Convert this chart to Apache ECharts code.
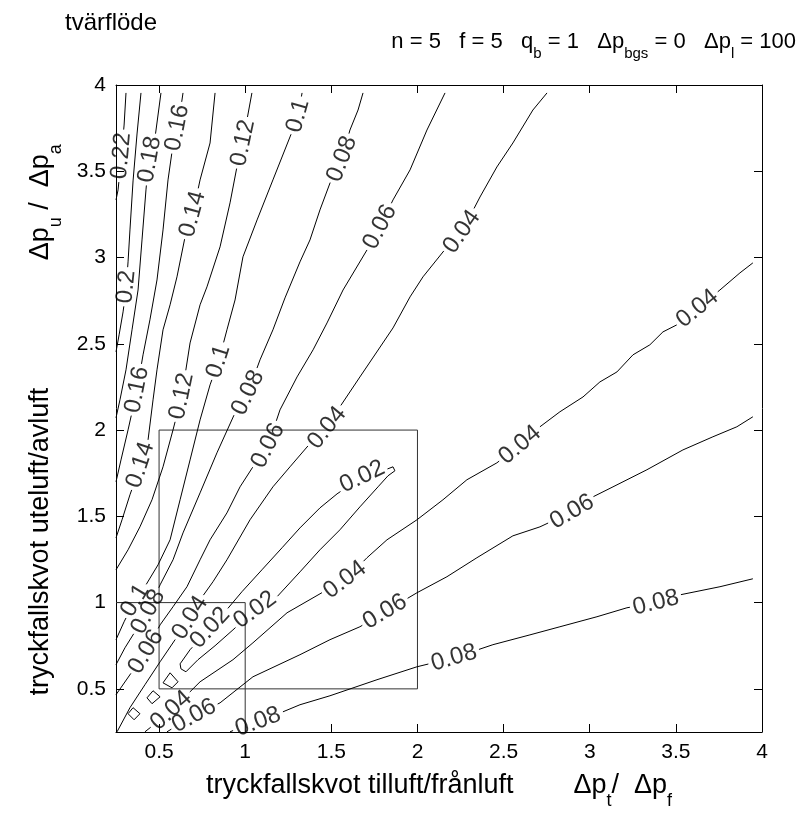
<!DOCTYPE html>
<html><head><meta charset="utf-8">
<script src="https://cdn.jsdelivr.net/npm/echarts@6/dist/echarts.min.js"></script>
<style>html,body{margin:0;padding:0;background:#fff}#c{width:811px;height:818px}</style>
</head><body><div id="c"></div>
<script>
// ---------- data ----------
const xTicks = [0.5, 1, 1.5, 2, 2.5, 3, 3.5, 4];
const yTicks = [0.5, 1, 1.5, 2, 2.5, 3, 3.5, 4];

const c022 = [[0.308,3.954],[0.297,3.768],[0.279,3.566],[0.262,3.392],[0.25,3.334]];
const c022Lab = [[0.285,3.589]];
const c020 = [[0.395,3.954],[0.372,3.716],[0.349,3.444],[0.331,3.160],[0.320,2.975],[0.308,2.812],[0.291,2.685],[0.268,2.552],[0.25,2.453]];
const c020Lab = [[0.314,2.830]];
const c018 = [[0.511,3.954],[0.477,3.699],[0.436,3.525],[0.424,3.392],[0.401,3.102],[0.378,2.812],[0.343,2.581],[0.308,2.349],[0.273,2.175],[0.25,2.071]];
const c018Lab = [[0.459,3.566]];
const c016 = [[0.639,3.954],[0.622,3.838],[0.598,3.711],[0.575,3.612],[0.552,3.450],[0.523,3.160],[0.488,2.870],[0.447,2.639],[0.407,2.436],[0.372,2.233],[0.320,2.001],[0.279,1.827],[0.25,1.700]];
const c016Lab = [[0.610,3.751],[0.372,2.233]];
const c014 = [[0.825,3.954],[0.796,3.664],[0.738,3.450],[0.697,3.259],[0.651,3.120],[0.604,2.888],[0.564,2.726],[0.523,2.581],[0.488,2.349],[0.465,2.175],[0.436,1.943],[0.389,1.787],[0.331,1.625],[0.285,1.480],[0.25,1.375]];
const c014Lab = [[0.691,3.253],[0.389,1.798]];
const c012 = [[1.039,3.954],[1.010,3.797],[0.987,3.664],[0.952,3.525],[0.912,3.317],[0.854,3.062],[0.778,2.830],[0.738,2.726],[0.680,2.505],[0.633,2.204],[0.581,2.001],[0.523,1.787],[0.459,1.596],[0.389,1.439],[0.320,1.306],[0.25,1.190]];
const c012Lab = [[0.987,3.664],[0.622,2.198]];
const c010 = [[1.330,3.954],[1.306,3.815],[1.260,3.699],[1.161,3.450],[1.069,3.218],[0.987,3.004],[0.941,2.754],[0.894,2.581],[0.848,2.407],[0.796,2.262],[0.738,2.059],[0.680,1.827],[0.622,1.596],[0.564,1.364],[0.494,1.219],[0.424,1.103],[0.355,1.005],[0.297,0.889],[0.25,0.785]];
const c010Lab = [[1.306,3.821],[0.854,2.395],[0.355,1.016]];
const c008 = [[1.684,3.954],[1.655,3.855],[1.608,3.739],[1.562,3.571],[1.492,3.432],[1.434,3.276],[1.376,3.102],[1.318,2.975],[1.231,2.766],[1.161,2.581],[1.086,2.407],[1.016,2.216],[0.929,2.077],[0.836,1.868],[0.738,1.636],[0.639,1.404],[0.581,1.248],[0.506,1.103],[0.436,0.947],[0.360,0.831],[0.302,0.738],[0.25,0.640]];
const c008Lab = [[1.562,3.571],[1.016,2.216],[0.436,0.947]];
const c006u = [[2.160,3.954],[2.055,3.739],[1.957,3.508],[1.858,3.334],[1.782,3.177],[1.707,3.044],[1.568,2.812],[1.475,2.621],[1.394,2.465],[1.301,2.308],[1.202,2.117],[1.132,1.909],[1.045,1.787],[0.970,1.671],[0.894,1.520],[0.796,1.364],[0.738,1.248],[0.662,1.092],[0.581,0.976],[0.506,0.871],[0.424,0.715],[0.331,0.582],[0.25,0.466]];
const c006uLab = [[1.782,3.177],[1.132,1.909],[0.424,0.715]];
const c004u = [[2.752,3.954],[2.670,3.855],[2.554,3.664],[2.461,3.525],[2.363,3.351],[2.258,3.149],[2.148,3.033],[2.032,2.888],[1.957,2.772],[1.858,2.592],[1.666,2.308],[1.550,2.135],[1.475,2.013],[1.359,1.903],[1.260,1.787],[1.161,1.671],[1.028,1.480],[0.894,1.248],[0.813,1.121],[0.738,1.016],[0.680,0.912],[0.593,0.785],[0.506,0.657],[0.418,0.524],[0.331,0.391],[0.256,0.251]];
const c004uLab = [[2.258,3.149],[1.475,2.013],[0.680,0.912]];
const c002 = [[0.622,0.645],[0.680,0.727],[0.796,0.854],[0.883,0.947],[0.981,1.063],[1.097,1.190],[1.214,1.318],[1.318,1.433],[1.434,1.549],[1.533,1.630],[1.678,1.729],[1.811,1.769],[1.858,1.787],[1.869,1.764],[1.829,1.735],[1.771,1.671],[1.666,1.555],[1.550,1.422],[1.434,1.306],[1.318,1.178],[1.185,1.034],[1.057,0.958],[0.929,0.842],[0.825,0.750],[0.726,0.669],[0.656,0.599],[0.627,0.616],[0.622,0.645]];
const c002Lab = [[1.678,1.735],[0.796,0.854],[1.057,0.958]];
const c004l = [[3.947,2.969],[3.872,2.911],[3.756,2.812],[3.622,2.702],[3.506,2.610],[3.425,2.569],[3.349,2.494],[3.251,2.436],[3.158,2.337],[3.059,2.279],[2.961,2.192],[2.827,2.106],[2.711,2.019],[2.595,1.914],[2.461,1.810],[2.287,1.712],[2.148,1.596],[1.997,1.480],[1.823,1.364],[1.707,1.260],[1.579,1.132],[1.434,1.051],[1.243,0.941],[1.045,0.767],[0.929,0.669],[0.738,0.541],[0.575,0.379],[0.477,0.298],[0.418,0.251]];
const c004lLab = [[3.622,2.708],[2.595,1.914],[1.579,1.132],[0.575,0.368]];
const c006l = [[3.947,2.077],[3.854,2.019],[3.715,1.961],[3.541,1.885],[3.332,1.770],[3.135,1.671],[3.019,1.613],[2.897,1.526],[2.711,1.439],[2.554,1.387],[2.345,1.260],[2.171,1.150],[1.997,1.057],[1.811,0.947],[1.666,0.860],[1.492,0.785],[1.318,0.698],[1.045,0.570],[0.854,0.419],[0.703,0.344],[0.593,0.280],[0.546,0.251]];
const c006lLab = [[2.897,1.526],[1.811,0.947],[0.703,0.344]];
const c008l = [[3.947,1.138],[3.756,1.092],[3.524,1.045],[3.384,0.999],[3.216,0.970],[3.042,0.918],[2.827,0.860],[2.653,0.813],[2.438,0.756],[2.212,0.680],[1.997,0.628],[1.765,0.553],[1.492,0.460],[1.318,0.408],[1.219,0.367],[1.074,0.309],[0.941,0.263],[0.912,0.251]];
const c008lLab = [[3.384,0.999],[2.212,0.680],[1.074,0.309]];

const loopA = [[0.564,0.593],[0.610,0.541],[0.575,0.506],[0.523,0.535],[0.564,0.593]];
const loopB = [[0.465,0.489],[0.506,0.454],[0.459,0.414],[0.430,0.448],[0.465,0.489]];
const loopC = [[0.349,0.391],[0.389,0.356],[0.355,0.321],[0.320,0.356],[0.349,0.391]];

const boxOuter = [[0.5,0.5],[2,0.5],[2,2],[0.5,2],[0.5,0.5]];
const boxInner = [[0.25,1],[1,1],[1,0.25]];

const contours = [
  ['0.22', c022, c022Lab], ['0.2', c020, c020Lab], ['0.18', c018, c018Lab],
  ['0.16', c016, c016Lab], ['0.14', c014, c014Lab], ['0.12', c012, c012Lab],
  ['0.1', c010, c010Lab], ['0.08', c008, c008Lab], ['0.06', c006u, c006uLab],
  ['0.04', c004u, c004uLab], ['0.02', c002, c002Lab], ['0.04', c004l, c004lLab],
  ['0.06', c006l, c006lLab], ['0.08', c008l, c008lLab]
];
const smallLoops = [loopA, loopB, loopC];

// ---------- chart ----------
const FONT = "'Liberation Sans', Arial, Helvetica, sans-serif";
const LABEL_SIZE = 24;
const chart = echarts.init(document.getElementById('c'));

const subRich = {
  a: {fontSize: 22, fontWeight: 'normal', fontFamily: FONT, color: '#000', lineHeight: 25, verticalAlign: 'top'},
  s: {fontSize: 15, fontWeight: 'normal', fontFamily: FONT, color: '#000', lineHeight: 16, verticalAlign: 'top', padding: [15, 0, 0, 0]}
};
const nameRich = {
  a: {fontSize: 27, fontWeight: 'normal', fontFamily: FONT, color: '#000', lineHeight: 31, verticalAlign: 'top'},
  s: {fontSize: 18, fontWeight: 'normal', fontFamily: FONT, color: '#000', lineHeight: 18, verticalAlign: 'top', padding: [20, 0, 0, 0]}
};

function axisBase(pos, showLabel, ticks) {
  return {
    type: 'value', min: 0.25, max: 4, position: pos,
    axisLine: {show: true, onZero: false, lineStyle: {color: '#000', width: 1}},
    axisTick: {show: true, inside: true, length: 8, customValues: ticks, lineStyle: {color: '#000', width: 1}},
    axisLabel: {show: showLabel, customValues: ticks, fontSize: 21, fontFamily: FONT, color: '#000', margin: 10},
    splitLine: {show: false}
  };
}

const baseOption = {
  animation: false,
  backgroundColor: '#fff',
  title: [
    {text: 'tvärflöde', left: 60, top: 6, textStyle: {fontSize: 24, fontWeight: 'normal', fontFamily: FONT, color: '#000'}},
    {text: '{a|n = 5   f = 5   q}{s|b}{a| = 1   \u0394p}{s|bgs}{a| = 0   \u0394p}{s|l}{a| = 100}',
     right: 10, top: 26, textStyle: {fontWeight: 'normal', rich: subRich}}
  ],
  grid: {left: 116, right: 49, top: 85, bottom: 86},
  xAxis: [
    Object.assign(axisBase('bottom', true, xTicks), {
      name: '{a|tryckfallskvot tilluft/frånluft        \u0394p}{s|t}{a|/  \u0394p}{s|f}',
      nameLocation: 'middle', nameGap: 40, nameTextStyle: {rich: nameRich}
    }),
    axisBase('top', false, xTicks)
  ],
  yAxis: [
    Object.assign(axisBase('left', true, yTicks), {
      name: '{a|tryckfallskvot uteluft/avluft                 \u0394p}{s|u}{a| /  \u0394p}{s|a}{a|   }',
      nameLocation: 'middle', nameRotate: 90, nameGap: 58, nameTextStyle: {rich: nameRich}
    }),
    axisBase('right', false, yTicks)
  ],
  series: []
};
chart.setOption(baseOption);

const ctx = document.createElement('canvas').getContext('2d');
ctx.font = LABEL_SIZE + 'px ' + FONT;
const toPx = p => chart.convertToPixel({xAxisIndex: 0, yAxisIndex: 0}, p);

function buildContour(text, pts, labs) {
  const px = pts.map(toPx);
  const s = [0];
  for (let i = 1; i < px.length; i++) s.push(s[i - 1] + Math.hypot(px[i][0] - px[i - 1][0], px[i][1] - px[i - 1][1]));
  const total = s[s.length - 1];
  function seg(v) {
    let i = 0;
    while (i < s.length - 2 && s[i + 1] < v) i++;
    const L = s[i + 1] - s[i];
    return [i, L > 0 ? (v - s[i]) / L : 0];
  }
  const lerp = (arr, v) => { const [i, t] = seg(v); return [arr[i][0] + t * (arr[i + 1][0] - arr[i][0]), arr[i][1] + t * (arr[i + 1][1] - arr[i][1])]; };
  const half = ctx.measureText(text).width / 2 + 3;
  const gaps = [], labels = [];
  labs.forEach(lp => {
    const q = toPx(lp);
    let best = null;
    for (let i = 0; i < px.length - 1; i++) {
      const ax = px[i][0], ay = px[i][1], dx = px[i + 1][0] - ax, dy = px[i + 1][1] - ay;
      const L2 = dx * dx + dy * dy;
      let t = L2 > 0 ? ((q[0] - ax) * dx + (q[1] - ay) * dy) / L2 : 0;
      t = Math.max(0, Math.min(1, t));
      const d = Math.hypot(q[0] - (ax + t * dx), q[1] - (ay + t * dy));
      if (!best || d < best.d) best = {d, i, t};
    }
    const sl = s[best.i] + best.t * (s[best.i + 1] - s[best.i]);
    gaps.push([sl - half, sl + half]);
    const a = lerp(px, Math.max(0, sl - half)), b = lerp(px, Math.min(total, sl + half));
    let ang = -Math.atan2(b[1] - a[1], b[0] - a[0]) * 180 / Math.PI;
    if (ang > 90) ang -= 180;
    if (ang < -90) ang += 180;
    labels.push({value: lerp(pts, sl), label: {rotate: ang}});
  });
  const inGap = v => gaps.some(g => v > g[0] + 1e-6 && v < g[1] - 1e-6);
  let ev = s.slice();
  gaps.forEach(g => ev.push(g[0], g[1]));
  ev = ev.filter(v => v >= 0 && v <= total).sort((x, y) => x - y);
  const out = [];
  let prev = null;
  ev.forEach(v => {
    if (inGap(v)) return;
    if (prev !== null && Math.abs(v - prev) < 1e-9) return;
    if (prev !== null && inGap((prev + v) / 2)) out.push(['-', '-']);
    out.push(lerp(pts, v));
    prev = v;
  });
  return {line: out, labels};
}

const lineStyle = {color: '#000', width: 1};
const series = [];
[boxOuter, boxInner].forEach(b => series.push({
  type: 'line', data: b, showSymbol: false, silent: true, z: 1,
  lineStyle: {color: '#333', width: 1}
}));
smallLoops.forEach(l => series.push({type: 'line', data: l, showSymbol: false, silent: true, z: 2, lineStyle}));
contours.forEach(([text, pts, labs]) => {
  const r = buildContour(text, pts, labs);
  series.push({type: 'line', data: r.line, showSymbol: false, silent: true, z: 2, connectNulls: false, lineStyle});
  series.push({
    type: 'scatter', data: r.labels, symbolSize: 1, silent: true, z: 4,
    itemStyle: {color: 'rgba(0,0,0,0)'},
    label: {show: true, position: 'inside', formatter: text, fontSize: LABEL_SIZE, fontFamily: FONT,
            color: '#000', align: 'center', verticalAlign: 'middle'}
  });
});
chart.setOption({series});
</script></body></html>
